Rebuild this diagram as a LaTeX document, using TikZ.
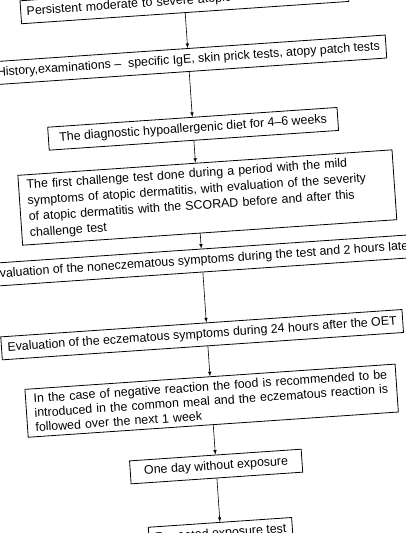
\documentclass[tikz,border=0pt]{standalone}
\usepackage{fontspec}
\setmainfont{Liberation Sans}
\usetikzlibrary{calc, arrows}
\tikzset{>=latex}
\tikzset{stepbox/.style = {draw = black, line width = 0.8pt, fill = white, inner xsep = 6pt, inner ysep = 0pt, minimum height = 23pt, font = \fontsize{12.4}{14.5}\selectfont},
         textbox/.style = {stepbox, align = left, inner xsep = 8pt}}

\begin{document}
\begin{tikzpicture}[x = 1pt, y = 1pt]
\useasboundingbox (0,0) rectangle (406,533);
\clip (0,0) rectangle (406,533);
\begin{scope}[rotate around = {3.9:(202.5,266.5)}, transform shape]
\node[stepbox, text width = 316pt, align = left] (persist) at (202.5,532.5) {Persistent moderate to severe atopic dermatitis};
\node[stepbox, minimum width = 396pt] (history) at (202.5,473.5) {History,examinations --\ \ specific IgE, skin prick tests, atopy patch tests};
\node[stepbox, minimum width = 290pt] (diet) at (202.5,404.5) {The diagnostic hypoallergenic diet for 4--6 weeks};
\node[textbox, text width = 359pt, minimum height = 70pt, font = \fontsize{12.4}{16}\selectfont] (first) at (212,335) {The first challenge test done during a period with the mild\\ symptoms of atopic dermatitis, with evaluation of the severity\\ of atopic dermatitis with the SCORAD before and after this\\ challenge test};
\node[stepbox] (noneczema) at (202.5,272.5) {Evaluation of the noneczematous symptoms during the test and 2 hours later};
\node[stepbox, minimum width = 402pt] (eczema) at (197.5,198.5) {Evaluation of the eczematous symptoms during 24 hours after the OET};
\node[textbox, text width = 355pt, minimum height = 48pt] (negative) at (202.5,132) {In the case of negative reaction the food is recommended to be\\ introduced in the common meal and the eczematous reaction is\\ followed over the next 1 week};
\node[stepbox, minimum width = 172pt] (oneday) at (202.5,66) {One day without exposure};
\node[stepbox] (repeat) at (202.5,-1.5) {Repeated exposure test};
% arrows
\draw[->, line width = 0.6pt] (persist.south) -- (history.north);
\draw[->, line width = 0.6pt] (history.south) -- (diet.north);
\draw[->, line width = 0.6pt] (diet.south) -- ($(first.north west)!0.4747!(first.north east)$);
\draw[->, line width = 0.6pt] ($(first.south west)!0.4747!(first.south east)$) -- (noneczema.north);
\draw[->, line width = 0.6pt] (noneczema.south) -- ($(eczema.north west)!0.5124!(eczema.north east)$);
\draw[->, line width = 0.6pt] ($(eczema.south west)!0.5124!(eczema.south east)$) -- (negative.north);
\draw[->, line width = 0.6pt] (negative.south) -- (oneday.north);
\draw[->, line width = 0.6pt] (oneday.south) -- (repeat.north);
\end{scope}
\end{tikzpicture}
\end{document}
